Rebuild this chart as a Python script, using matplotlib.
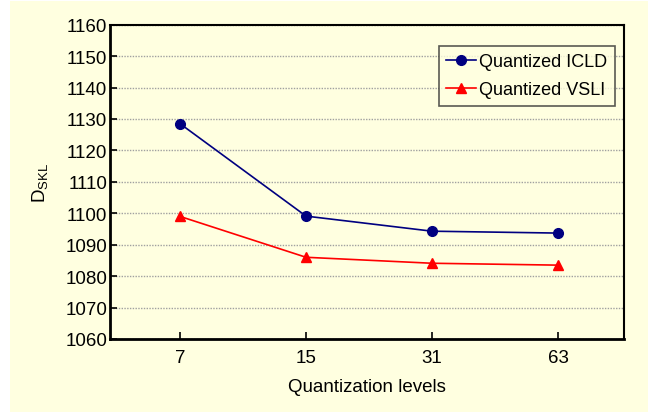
import numpy as np
import matplotlib
matplotlib.use('Agg')
import matplotlib.pyplot as plt

plt.rcParams['font.family'] = ['Liberation Sans', 'DejaVu Sans']
plt.rcParams['mathtext.fontset'] = 'custom'
plt.rcParams['mathtext.rm'] = 'Liberation Sans'
plt.rcParams['mathtext.it'] = 'Liberation Sans:italic'

# data
levels = ['7', '15', '31', '63']
icld = [1128.5, 1099.1, 1094.3, 1093.7]
vsli = [1099.0, 1086.0, 1084.1, 1083.5]
yticks = list(range(1060, 1161, 10))

bg = '#FFFFE0'

fig = plt.figure(figsize=(6.48, 4.14), dpi=100)
fig.patch.set_facecolor('white')
# yellow panel behind everything
fig.patches.append(matplotlib.patches.Rectangle((10 / 648, 0.002), 1.0, 0.993,
                                                transform=fig.transFigure,
                                                facecolor=bg, edgecolor='none', zorder=-1))

ax = fig.add_axes([110 / 648, 1 - 340 / 414, 514 / 648, (340 - 25.7) / 414])
ax.set_facecolor(bg)

x = np.arange(1, len(levels) + 1)
ax.plot(x, icld, color='#000080', marker='o', markersize=7, linewidth=1.2,
        label='Quantized ICLD', zorder=3)
ax.plot(x, vsli, color='#FF0000', marker='^', markersize=7.5, linewidth=1.2,
        label='Quantized VSLI', zorder=3)

ax.set_xlim(0.444, 4.524)
ax.set_ylim(1060, 1160)
ax.set_xticks(x)
ax.set_xticklabels(levels)
ax.set_yticks(yticks)
ax.yaxis.grid(True, linestyle=(0, (1, 1)), color='#A0A0A0', linewidth=1)
ax.set_axisbelow(True)

ax.tick_params(direction='in', length=5, width=1.2, labelsize=13.5, colors='black')
ax.tick_params(axis='x', pad=7)
ax.tick_params(axis='y', pad=2)
for side in ['left', 'bottom']:
    ax.spines[side].set_linewidth(2)
for side in ['right', 'top']:
    ax.spines[side].set_linewidth(1.5)

ax.set_xlabel('Quantization levels', fontsize=13.5, labelpad=9)
ax.set_ylabel(r'D$_{\mathrm{SKL}}$', fontsize=13.5, labelpad=11)

leg = ax.legend(loc='upper right', bbox_to_anchor=(0.982, 0.932), fontsize=13,
                frameon=True, fancybox=False, handlelength=1.65, handletextpad=0.2,
                borderpad=0.4, labelspacing=0.62, borderaxespad=0)
leg.get_frame().set_edgecolor('#303030')
leg.get_frame().set_facecolor(bg)
leg.get_frame().set_linewidth(1.2)

fig.savefig('out.png', dpi=100)
